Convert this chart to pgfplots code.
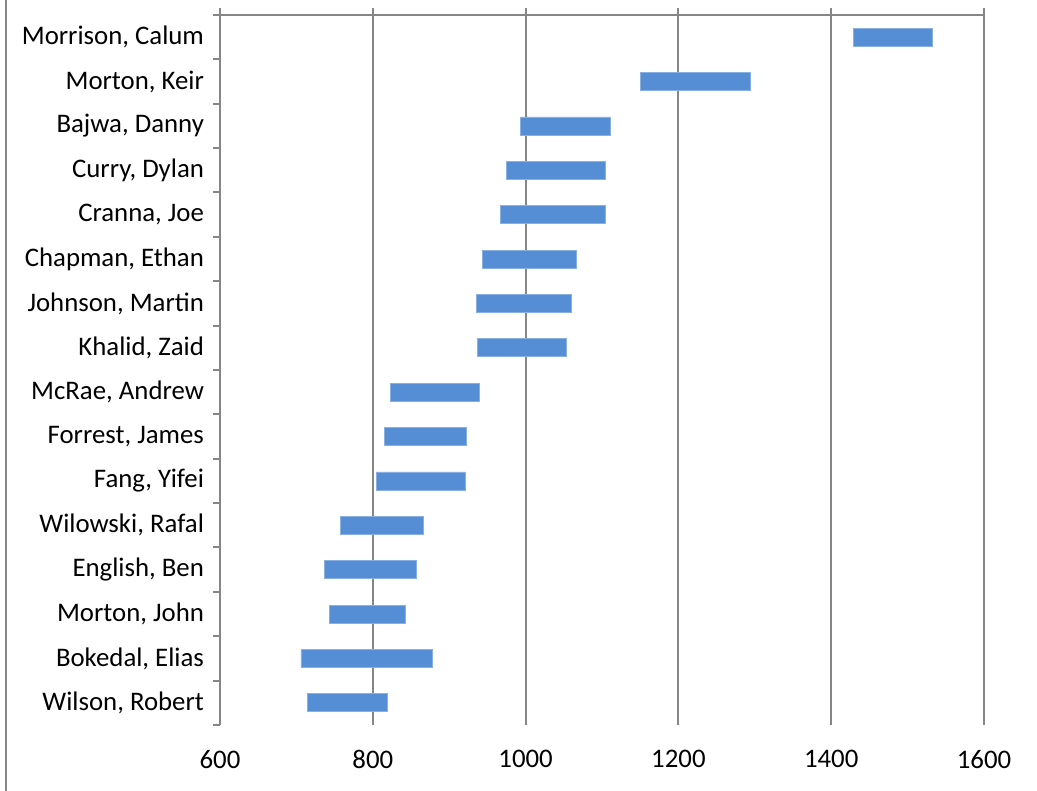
\documentclass[border=0pt]{standalone}
\usepackage{fontspec}
\setmainfont{Carlito}
\usepackage{pgfplots}
\usepackage{pgfplotstable}
\pgfplotsset{compat=1.18}
\definecolor{barblue}{HTML}{558ED5}
\definecolor{gridgray}{HTML}{868686}
\pgfplotstableread{
idx start end
0 715 819
1 706 878
2 743 843
3 737 857
4 758 866
5 805 921
6 815 923
7 823 939
8 937 1053
9 936 1060
10 943 1067
11 967 1105
12 975 1105
13 993 1111
14 1150 1294
15 1429 1533
}\datatable
\begin{document}
\begin{tikzpicture}
\path[use as bounding box] (-110pt,-33pt) rectangle (408.5pt,362.5pt);
\draw[gridgray, line width=1pt] (-107pt,-33pt) -- (-107pt,362.5pt);
\begin{axis}[
  at={(0,0)}, anchor=south west,
  scale only axis, width=382pt, height=355pt,
  xmin=600, xmax=1600, ymin=-0.5, ymax=15.5,
  clip=false,
  xbar stacked, bar width=9pt,
  axis lines=left,
  axis line style={-},
  x axis line style={draw=none},
  y axis line style={gridgray, line width=1pt},
  xtick={600,800,1000,1200,1400,1600},
  xmajorgrids,
  major grid style={gridgray, line width=1pt},
  ytick={0,...,15},
  yticklabels={{Wilson, Robert},{Bokedal, Elias},{Morton, John},{English, Ben},{Wilowski, Rafal},{Fang, Yifei},{Forrest, James},{McRae, Andrew},{Khalid, Zaid},{Johnson, Martin},{Chapman, Ethan},{Cranna, Joe},{Curry, Dylan},{Bajwa, Danny},{Morton, Keir},{Morrison, Calum}},
  minor ytick={-0.5,0.5,...,15.5},
  minor tick length=3.5pt,
  every minor tick/.style={gridgray, line width=1pt},
  tick align=outside,
  major tick length=0pt,
  tick label style={font=\fontsize{13.4}{16}\selectfont, text=black},
  yticklabel style={xshift=-4.5pt},
  xticklabel style={yshift=-9pt},
  /pgf/number format/assume math mode=true,
  /pgf/number format/1000 sep={},
]
\addplot[draw=none, fill=none] table[x=start, y=idx] {\datatable};
\addplot[fill=barblue, draw=barblue!70!white, line width=0.4pt] table[x expr=\thisrow{end}-\thisrow{start}, y=idx] {\datatable};
\draw[gridgray, line width=1pt] (axis cs:600,15.5) -- (axis cs:1600,15.5);
\pgfplotsinvokeforeach{600,800,1000,1200,1400,1600}{
  \draw[gridgray, line width=1pt] (axis cs:#1,15.5) -- ++(0pt,3.5pt);
}
\end{axis}
\end{tikzpicture}
\end{document}
